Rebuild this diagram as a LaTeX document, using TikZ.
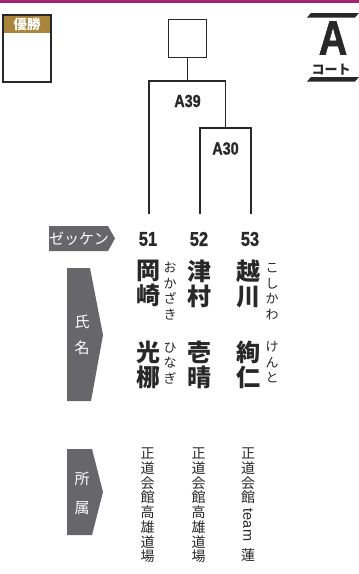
\documentclass[tikz,border=0pt]{standalone}
\usepackage{fontspec}
\setmainfont{Liberation Sans}
\newfontfamily\jp{Noto Sans CJK JP}
\newfontfamily\numfont[FakeStretch=0.82,BoldFeatures={FakeBold=1.2}]{Liberation Sans}

\definecolor{topRule}{HTML}{A3246F}
\definecolor{gold}{HTML}{A9853B}
\definecolor{ink}{HTML}{282828}
\definecolor{tagGray}{HTML}{66666B}

\tikzset{
  bracket/.style={line width=1.7pt,draw=ink},
  num/.style={font=\numfont\bfseries\fontsize{20}{20}\selectfont,text=ink,inner sep=0},
  match/.style={font=\numfont\bfseries\fontsize{17.5}{17.5}\selectfont,text=ink,inner sep=0},
  kanji/.style={font=\jp\bfseries\fontsize{24}{25}\selectfont,text=ink,align=center,inner sep=0},
  kana/.style={font=\jp\fontsize{13}{15.5}\selectfont,text=ink,align=center,inner sep=0},
  club/.style={font=\jp\fontsize{14}{14}\selectfont,text=ink,inner sep=0},
  tagtext/.style={font=\jp\fontsize{15}{15}\selectfont,text=white,inner sep=0}
}

\begin{document}
\begin{tikzpicture}[x=1pt,y=-1pt]
  \useasboundingbox (0,0) rectangle (359,574);

  % top rule
  \fill[topRule] (0,0) rectangle (359,2.6);

  % winner label
  \fill[gold] (3,15) rectangle (51,33);
  \draw[line width=1.8pt,draw=ink] (3,15) rectangle (51,82);
  \node[font=\jp\bfseries\fontsize{13.5}{13.5}\selectfont,text=white,inner sep=0] (champ) at (27,24) {優勝};

  % court
  \fill[ink] (307,17.5) -- (311,13) -- (359,13) -- (355,17.5) -- cycle;
  \node[font=\numfont\bfseries\fontsize{48}{48}\selectfont,text=ink,inner sep=0] (court) at (333,38) {A};
  \node[font=\jp\bfseries\fontsize{13}{13}\selectfont,text=ink,inner sep=0] (courtlabel) at (331,70) {コート};
  \fill[ink] (307,81.5) -- (311,77) -- (359,77) -- (355,81.5) -- cycle;

  % tags
  \fill[tagGray] (49,226) -- (108,226) -- (115,238.5) -- (108,251) -- (49,251) -- cycle;
  \node[tagtext] (zekken) at (79,238.5) {ゼッケン};
  \fill[tagGray] (67,268) -- (90,268) -- (103,335) -- (91,401) -- (67,401) -- cycle;
  \node[tagtext] (shi) at (82,322) {氏};
  \node[tagtext] (mei) at (82,348) {名};
  \fill[tagGray] (67,449) -- (92,449) -- (103,492) -- (92,535) -- (67,535) -- cycle;
  \node[tagtext] (sho) at (82,479) {所};
  \node[tagtext] (zoku) at (82,508) {属};

  % numbers and line ends
  \foreach \no/\x in {51/148,52/199,53/250}
     {\node[num] (n\no) at (\x,239) {\no};
      \coordinate (t\no) at (\x+1,214);}

  % matches
  \coordinate (m30) at (225.5,128);
  \coordinate (m39) at (187.5,81);
  \node[draw=ink,line width=1.7pt,minimum size=38pt,inner sep=0] (win) at (187.5,38.5) {};
  \node[match] (A30) at (225.5,148.5) {A30};
  \node[match] (A39) at (187.5,101) {A39};

  \draw[bracket] (t52) |- (m30) -| (t53);
  \draw[bracket] (t51) |- (m39) -| (m30);
  \draw[bracket] (m39) -- (win.south);

  % names
  \node[kanji] (fam51) at (148,283.5) {岡\\崎};
  \node[kana] (famk51) at (170,291) {お\\か\\ざ\\き};
  \node[kanji] (giv51) at (148,364.5) {光\\梛};
  \node[kana] (givk51) at (170,363.5) {ひ\\な\\ぎ};

  \node[kanji] (fam52) at (199,283.5) {津\\村};
  \node[kanji] (giv52) at (199,364.5) {壱\\晴};

  \node[kanji] (fam53) at (248,283.5) {越\\川};
  \node[kana] (famk53) at (272,291.5) {こ\\し\\か\\わ};
  \node[kanji] (giv53) at (248,364.5) {絢\\仁};
  \node[kana] (givk53) at (272,362.5) {け\\ん\\と};

  % clubs
  \def\clubA{正,道,会,館,高,雄,道,場}
  \foreach \c [count=\i from 0] in \clubA
     {\node[club] (ca\i) at (147.5,453.5+14.7*\i) {\c};
      \node[club] (cb\i) at (198.5,453.5+14.7*\i) {\c};}
  \foreach \c [count=\i from 0] in {正,道,会,館}
      \node[club] (cc\i) at (248,453.5+14.7*\i) {\c};
  \node[club,font=\fontsize{14.5}{14.5}\selectfont,rotate=-90] (ccteam) at (248,525) {team};
  \node[club] (ccren) at (248,555) {蓮};

\end{tikzpicture}
\end{document}
